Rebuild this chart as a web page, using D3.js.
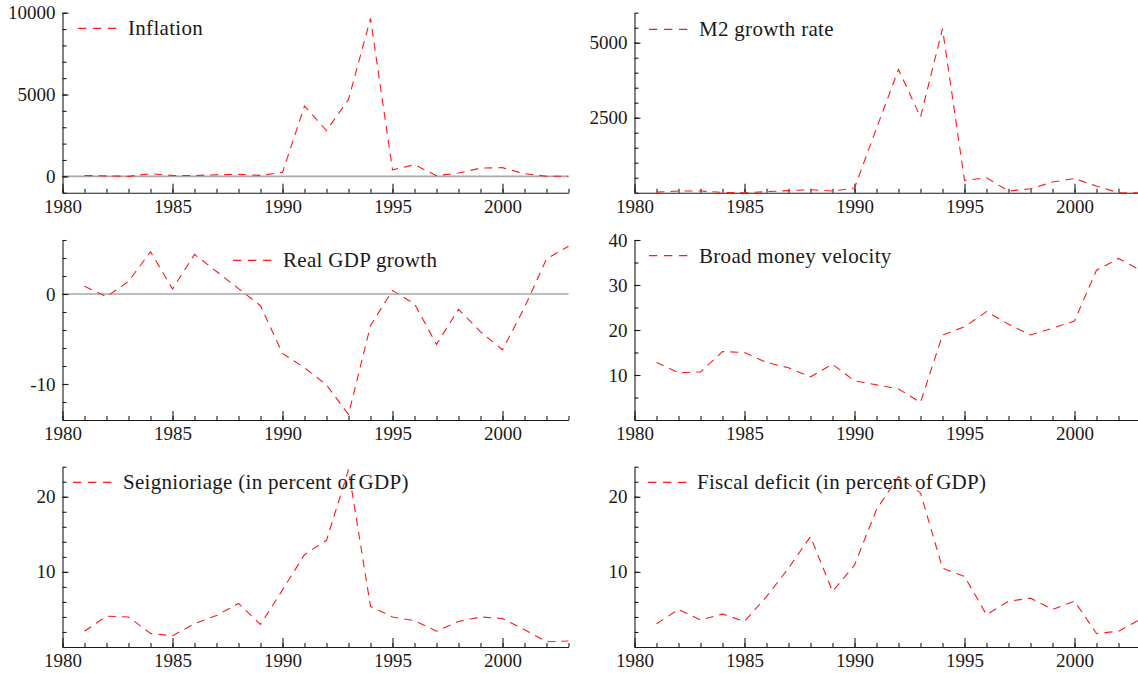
<!DOCTYPE html>
<html>
<head>
<meta charset="utf-8">
<script src="https://cdn.jsdelivr.net/npm/d3@7"></script>
<style>
  body { margin: 0; background: #fff; }
  svg { display: block; }
</style>
</head>
<body>
<div id="chart"></div>
<script>

var years = [1981, 1982, 1983, 1984, 1985, 1986, 1987, 1988, 1989, 1990, 1991, 1992,
             1993, 1994, 1995, 1996, 1997, 1998, 1999, 2000, 2001, 2002, 2003];

var inflation   = [50, 30, 0, 160, 50, 50, 100, 120, 60, 240, 4300, 2800,
                   4700, 9650, 400, 710, 40, 200, 500, 530, 160, 10, 0];
var m2growth    = [20, 55, 55, 10, 0, 35, 70, 100, 55, 155, 2150, 4110,
                   2520, 5470, 410, 500, 55, 130, 355, 470, 220, 0, 0];
var gdpgrowth   = [0.85, -0.3, 1.4, 4.7, 0.55, 4.4, 2.5, 0.6, -1.3, -6.6, -8.2, -10.1,
                   -13.4, -3.5, 0.4, -1.1, -5.6, -1.7, -4.2, -6.2, -1.5, 3.9, 5.3];
var velocity    = [12.8, 10.5, 10.7, 15.2, 15.0, 12.8, 11.6, 9.6, 12.4, 8.7, 7.8, 6.9,
                   3.9, 18.9, 20.7, 24.1, 21.3, 18.9, 20.4, 22.0, 33.3, 35.9, 33.3];
var seigniorage = [2.1, 4.1, 4.0, 1.8, 1.5, 3.1, 4.2, 5.8, 3.0, 7.6, 12.3, 14.2,
                   23.6, 5.4, 4.0, 3.5, 2.1, 3.4, 4.0, 3.8, 2.3, 0.7, 0.8];
var deficit     = [3.1, 5.0, 3.6, 4.4, 3.4, 6.7, 10.5, 14.7, 7.4, 10.9, 18.3, 22.7,
                   20.5, 10.5, 9.4, 4.3, 6.1, 6.5, 5.0, 6.1, 1.8, 2.1, 3.7];

var xTicks  = [1980, 1981, 1982, 1983, 1984, 1985, 1986, 1987, 1988, 1989, 1990, 1991,
               1992, 1993, 1994, 1995, 1996, 1997, 1998, 1999, 2000, 2001, 2002, 2003];
var xLabels = [1980, 1985, 1990, 1995, 2000];

var width = 1138, height = 673,
    font = "'Liberation Serif', 'Times New Roman', serif",
    red = "#ff1a1a",
    ink = "#1a1a1a";

var svg = d3.select("#chart").append("svg")
    .attr("width", width)
    .attr("height", height);

// legend: [dash x, dash y, text x]; a name may be split where the original leaves a narrow gap
var panels = [
  { name: ["Inflation"], values: inflation, left: 62.5, top: 12.7, bottom: 192.7,
    domain: [-1000, 10000], minor: 1000, labels: [0, 5000, 10000], zero: true,
    legend: [78, 28.3, 128] },
  { name: ["M2 growth rate"], values: m2growth, left: 634.5, top: 12.7, bottom: 192.7,
    domain: [0, 6000], minor: 500, labels: [2500, 5000], zero: false,
    legend: [649, 29.3, 699] },
  { name: ["Real GDP growth"], values: gdpgrowth, left: 62.5, top: 240, bottom: 420,
    domain: [-14, 6], minor: 2, labels: [-10, 0], zero: true,
    legend: [233, 260.3, 283] },
  { name: ["Broad money velocity"], values: velocity, left: 634.5, top: 240, bottom: 420,
    domain: [0, 40], minor: 5, labels: [10, 20, 30, 40], zero: false,
    legend: [649, 255.7, 699] },
  { name: ["Seignioriage (in percent of", "GDP)"], values: seigniorage, left: 62.5, top: 466.7, bottom: 647,
    domain: [0, 24], minor: 2, labels: [10, 20], zero: false,
    legend: [73, 482.3, 123] },
  { name: ["Fiscal deficit (in percent of", "GDP)"], values: deficit, left: 634.5, top: 466.7, bottom: 647,
    domain: [0, 24], minor: 2, labels: [10, 20], zero: false,
    legend: [648, 482.3, 697] }
];

function styleAxis(g){
  g.attr("font-family", font)
   .attr("font-size", "19px")
   .style("color", ink);
  g.selectAll("path, line").attr("stroke-width", 1.1);
  g.selectAll("text").attr("fill", ink);
}

function plain(d){ return String(d); }

function drawPanel(p){
  var g = svg.append("g");

  var x = d3.scaleLinear().domain([1980, 2003]).range([p.left, p.left + 506]);
  var y = d3.scaleLinear().domain(p.domain).range([p.bottom, p.top]);

  var minorY = d3.range(p.domain[0], p.domain[1] + p.minor / 2, p.minor);

  if (p.zero) {
    g.append("line")
      .attr("x1", x(1980)).attr("x2", x(2003))
      .attr("y1", y(0)).attr("y2", y(0))
      .attr("stroke", "#a8a8a8")
      .attr("stroke-width", 1.6);
  }

  // y axis: short inward ticks, longer ones with labels
  g.append("g")
    .attr("transform", "translate(" + x(1980) + ",0)")
    .call(d3.axisLeft(y).tickValues(minorY).tickSize(-4).tickSizeOuter(0).tickFormat(""))
    .call(styleAxis);
  g.append("g")
    .attr("transform", "translate(" + x(1980) + ",0)")
    .call(d3.axisLeft(y).tickValues(p.labels).tickSize(-6).tickSizeOuter(0).tickPadding(7)
          .tickFormat(plain))
    .call(styleAxis)
    .call(function(a){ a.select(".domain").remove(); });

  // x axis
  g.append("g")
    .attr("transform", "translate(0," + p.bottom + ")")
    .call(d3.axisBottom(x).tickValues(xTicks).tickSize(-4).tickSizeOuter(0).tickFormat(""))
    .call(styleAxis);
  g.append("g")
    .attr("transform", "translate(0," + p.bottom + ")")
    .call(d3.axisBottom(x).tickValues(xLabels).tickSize(-9).tickSizeOuter(0).tickPadding(7)
          .tickFormat(plain))
    .call(styleAxis)
    .call(function(a){ a.select(".domain").remove(); });

  var line = d3.line()
    .x(function(d, i){ return x(years[i]); })
    .y(function(d){ return y(d); });

  g.append("path")
    .datum(p.values)
    .attr("d", line)
    .attr("fill", "none")
    .attr("stroke", red)
    .attr("stroke-width", 1.1)
    .attr("stroke-dasharray", "8,6");

  // legend
  g.append("line")
    .attr("x1", p.legend[0]).attr("x2", p.legend[0] + 39)
    .attr("y1", p.legend[1]).attr("y2", p.legend[1])
    .attr("stroke", red)
    .attr("stroke-width", 1.2)
    .attr("stroke-dasharray", "8.3,6.7");
  var t = g.append("text")
    .attr("x", p.legend[2])
    .attr("y", p.legend[1] + 7)
    .attr("font-family", font)
    .attr("font-size", "21px")
    .attr("letter-spacing", "0.3px")
    .attr("fill", ink);
  p.name.forEach(function(part, i){
    t.append("tspan").attr("dx", i ? 3 : 0).text(part);
  });
}

panels.forEach(drawPanel);

</script>
</body>
</html>
